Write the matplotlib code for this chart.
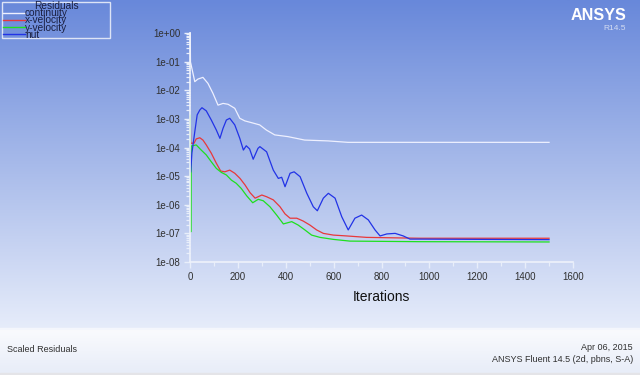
import numpy as np
import matplotlib
matplotlib.use("Agg")
import matplotlib.pyplot as plt
from matplotlib.ticker import LogLocator, MultipleLocator, FuncFormatter
from matplotlib.patches import Rectangle

plt.rcParams["font.family"] = ["Liberation Sans", "DejaVu Sans"]

# residual histories: iteration and log10(residual)
cont_iter = [1, 2, 20, 33, 54, 75, 96, 117, 138, 159, 187, 208, 229, 256, 291, 319,
             354, 409, 479, 577, 660, 900, 1200, 1500]
cont_log = [0.0, -1.01, -1.70, -1.61, -1.55, -1.76, -2.11, -2.52, -2.46, -2.49, -2.63,
            -2.98, -3.07, -3.13, -3.21, -3.39, -3.56, -3.62, -3.74, -3.77, -3.82,
            -3.82, -3.82, -3.82]

xvel_iter = [1, 3, 17, 26, 41, 54, 68, 89, 110, 128, 145, 166, 187, 209, 230, 251, 272,
             300, 320, 348, 376, 397, 418, 446, 473, 501, 529, 557, 599, 655, 738, 961, 1500]
xvel_log = [-2.92, -3.85, -3.85, -3.70, -3.66, -3.74, -3.91, -4.20, -4.55, -4.82, -4.85,
            -4.79, -4.90, -5.08, -5.31, -5.58, -5.77, -5.66, -5.72, -5.83, -6.07, -6.32,
            -6.47, -6.47, -6.57, -6.71, -6.88, -7.00, -7.06, -7.09, -7.14, -7.17, -7.17]

yvel_iter = [1, 3, 5, 26, 47, 68, 89, 110, 131, 152, 173, 193, 214, 237, 262, 285, 306,
             334, 362, 390, 425, 452, 480, 508, 543, 599, 668, 961, 1500]
yvel_log = [-2.87, -6.95, -3.95, -3.91, -4.09, -4.26, -4.50, -4.73, -4.87, -4.96, -5.14,
            -5.25, -5.43, -5.69, -5.93, -5.81, -5.86, -6.07, -6.36, -6.67, -6.59, -6.71,
            -6.88, -7.06, -7.14, -7.21, -7.27, -7.29, -7.30]

nut_iter = [1, 3, 8, 20, 30, 41, 50, 68, 89, 110, 125, 138, 152, 166, 187, 208, 223,
            235, 249, 264, 284, 292, 320, 348, 369, 383, 397, 418, 435, 460, 488, 515,
            532, 557, 578, 606, 634, 661, 689, 717, 745, 773, 794, 822, 857, 891, 919,
            961, 1500]
nut_log = [-4.0, -4.86, -4.19, -3.45, -2.86, -2.69, -2.61, -2.72, -3.04, -3.39, -3.68,
           -3.33, -3.04, -2.98, -3.21, -3.68, -4.09, -3.94, -4.05, -4.41, -4.03, -3.97,
           -4.15, -4.79, -5.08, -5.04, -5.37, -4.90, -4.85, -5.02, -5.60, -6.07, -6.21,
           -5.77, -5.60, -5.77, -6.42, -6.88, -6.47, -6.36, -6.53, -6.88, -7.09, -7.02,
           -7.00, -7.09, -7.20, -7.20, -7.22]

series_names = ["continuity", "x-velocity", "y-velocity", "nut"]
series_colors = ["#eef0ff", "#e8383a", "#1ee01e", "#2233e6"]

W, H = 640, 375
fig = plt.figure(figsize=(6.4, 3.75), dpi=100)

# background, drawn in pixel coordinates
bg = fig.add_axes([0, 0, 1, 1])
bg.set_xlim(0, W)
bg.set_ylim(H, 0)
bg.axis("off")

top = np.array([104, 136, 218]) / 255
bot = np.array([230, 236, 250]) / 255
t = np.linspace(0, 1, 200)[:, None]
grad = top + (bot - top) * t
bg.imshow(grad[:, None, :], extent=[0, W, 328, 0], aspect="auto")

ptop = np.array([250, 251, 254]) / 255
pbot = np.array([232, 237, 248]) / 255
pgrad = ptop + (pbot - ptop) * t
bg.imshow(pgrad[:, None, :], extent=[0, W, 373, 328], aspect="auto")
bg.add_patch(Rectangle((0, 373), W, 2, color="#e4e4e8"))
bg.add_patch(Rectangle((0, 327.5), W, 1.5, color="#f4f6fc"))

# legend box (entries overlap a little, as in the Fluent window)
bg.add_patch(Rectangle((2, 2), 108, 36, fill=False, edgecolor="#dde4f6", linewidth=1))
bg.text(56, 6, "Residuals", ha="center", va="center", fontsize=7.3, color="#1a1f40")
for i, (name, col) in enumerate(zip(series_names, series_colors)):
    yy = 12.5 + i * 7.3
    bg.plot([3, 25], [yy, yy], color=col, linewidth=1)
    bg.text(25, yy + 0.5, name, ha="left", va="center", fontsize=7.3, color="#1a1f40")

# logo
bg.text(626, 16, "ANSYS", ha="right", va="center", fontsize=11.6, fontweight="bold",
        color="white")
bg.text(626, 29, "R14.5", ha="right", va="center", fontsize=6, color="#d3dcf2")

# footer
bg.text(7, 349, "Scaled Residuals", ha="left", va="center", fontsize=6.5, color="#303030")
bg.text(633, 348, "Apr 06, 2015", ha="right", va="center", fontsize=6.5, color="#303030")
bg.text(633, 359, "ANSYS Fluent 14.5 (2d, pbns, S-A)", ha="right", va="center",
        fontsize=6.5, color="#303030")

# residual plot
ax = fig.add_axes([190 / W, 1 - 262 / H, 383 / W, 229 / H])
ax.patch.set_alpha(0)
ax.set_yscale("log")
ax.set_xlim(0, 1600)
ax.set_ylim(1e-8, 1)

for xs, ls, col in zip([cont_iter, xvel_iter, yvel_iter, nut_iter],
                       [cont_log, xvel_log, yvel_log, nut_log], series_colors):
    ax.plot(xs, 10.0 ** np.array(ls), color=col, linewidth=0.9, clip_on=False)

for s in ["top", "right"]:
    ax.spines[s].set_visible(False)
for s in ["left", "bottom"]:
    ax.spines[s].set_color("#eef2fb")
    ax.spines[s].set_linewidth(1.2)

ax.xaxis.set_major_locator(MultipleLocator(200))
ax.xaxis.set_minor_locator(MultipleLocator(100))
ax.yaxis.set_major_locator(LogLocator(base=10, numticks=20))
ax.yaxis.set_minor_locator(LogLocator(base=10, subs=np.arange(2, 10), numticks=20))
ax.yaxis.set_major_formatter(FuncFormatter(lambda v, p: "%.0e" % v))

ax.tick_params(which="major", direction="out", length=4, width=1, color="#e8eefa",
               labelsize=7, labelcolor="#303030", pad=3)
ax.tick_params(which="minor", direction="out", length=2.6, width=0.9, color="#e8eefa")
ax.set_xlabel("Iterations", fontsize=10, color="#111111", labelpad=6)

fig.savefig("out.png", dpi=100)
